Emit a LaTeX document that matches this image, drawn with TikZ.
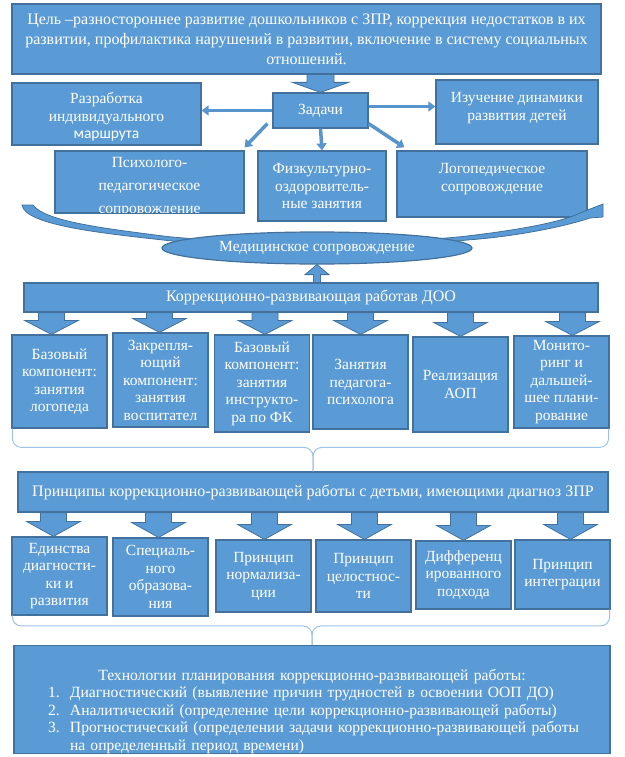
\documentclass[tikz,border=0pt]{standalone}
\usepackage{fontspec}
\setmainfont{Liberation Serif}
\newfontfamily\calibfont{Carlito}
\usepackage{tikz}
\usetikzlibrary{shapes.geometric, arrows.meta, positioning, calc}
\definecolor{boxblue}{HTML}{5B9BD5}
\definecolor{boxedge}{HTML}{41719C}
\definecolor{bracelight}{HTML}{9DC3E6}
\newcommand{\goalfont}{\fontsize{16}{20}\selectfont}
\newcommand{\boxfont}{\fontsize{15.5}{17.5}\selectfont}
\newcommand{\barfont}{\fontsize{16}{18}\selectfont}
\newcommand{\psyfont}{\fontsize{15.5}{23}\selectfont}
\newcommand{\techfont}{\fontsize{15.6}{17.5}\selectfont}
\tikzstyle{bluebox} = [draw=boxedge, fill=boxblue, rectangle, line width=1.2pt, text=white, align=center, font=\boxfont, inner sep=0pt]
\tikzstyle{rowbox} = [bluebox, minimum width=95pt]
\tikzstyle{medell} = [draw=boxedge, fill=boxblue, ellipse, line width=1.2pt, text=white, font=\boxfont, minimum width=310pt, minimum height=32pt, inner sep=0pt]
\tikzstyle{thinarrw} = [line width=3.5pt, draw=boxblue!85!boxedge, -{Triangle[length=7pt,width=10pt]}]
\tikzstyle{bracelne} = [draw=bracelight, line width=1pt, rounded corners=9pt]
\tikzset{fatarrw/.style n args={3}{fill=boxblue, draw=boxedge, line width=0.8pt,
  to path={let \p1=(\tikztostart), \p2=(\tikztotarget) in
    (\x1-#1,\y1) -- (\x1+#1,\y1) -- (\x1+#1,\y2+#3) -- (\x1+#2,\y2+#3) -- (\x1,\y2)
    -- (\x1-#2,\y2+#3) -- (\x1-#1,\y2+#3) -- cycle}}}

\begin{document}
\begin{tikzpicture}[x=1pt, y=-1pt]
    \useasboundingbox (0,0) rectangle (624,757);

    % Goal and tasks
    \node (goal) [bluebox, font=\goalfont, minimum width=589pt, minimum height=70pt] at (306.5,39) {Цель –разностороннее развитие дошкольников с ЗПР, коррекция недостатков в их\\развитии, профилактика нарушений в развитии, включение в систему социальных\\отношений.};
    \node (tasks) [bluebox, minimum width=95pt, minimum height=35pt] at (320.5,110.5) {Задачи};
    \node (route) [bluebox, minimum width=189pt, minimum height=62pt] at (106.5,114) {\rule{0pt}{17pt}Разработка\\индивидуального\\{\calibfont маршрута}};
    \node (dynam) [bluebox, minimum width=162pt, minimum height=64pt] at (517,112) {Изучение динамики\\развития детей\rule[-11.5pt]{0pt}{0pt}};
    \node (psych) [bluebox, minimum width=189pt, minimum height=62pt] at (149.5,182) {};
    \begin{scope}
        \clip ([yshift=1pt]psych.south west) rectangle (psych.north east);
        \node [text=white, font=\psyfont, align=center, anchor=north, inner sep=0pt] at ([yshift=-7pt]psych.north) {Психолого-\\педагогическое\\сопровождение};
    \end{scope}
    \node (sport) [bluebox, minimum width=128pt, minimum height=70pt] at (322,186) {Физкультурно-\\оздоровитель-\\ные занятия};
    \node (speech) [bluebox, minimum width=190pt, minimum height=66pt] at (492,184) {Логопедическое\\сопровождение\rule[-13.4pt]{0pt}{0pt}};

    \draw [fatarrw={13.5pt}{28pt}{10pt}] (goal.south -| tasks.north) to (tasks.north);
    \draw [thinarrw] (tasks.west) -- (tasks.west -| route.east);
    \draw [thinarrw] ([yshift=4pt]tasks.east) -- ([yshift=4pt]tasks.east -| dynam.west);
    \draw [thinarrw] ($(tasks.south west)+(-5,-5)$) -- ($(psych.north east)+(0,-3)$);
    \draw [thinarrw] (tasks.south) -- (sport.north);
    \draw [thinarrw] ($(tasks.south east)+(0,-5)$) -- ($(speech.north west)+(8,-3)$);

    % curved arrow under the tasks
    \fill [boxblue, draw=boxedge, line width=0.8pt] (22,205) -- (33,205)
        .. controls (45,222) and (110,229) .. (163,236)
        .. controls (230,244) and (400,244) .. (467,236)
        .. controls (510,231) and (560,223) .. (580,213) -- (603,204) -- (603,217) -- (590,218)
        .. controls (560,228) and (510,237) .. (467,240)
        .. controls (400,248) and (230,248) .. (163,240)
        .. controls (100,233) and (25,225) .. (22,205) -- cycle;
    \node (medic) [medell] at (317,248) {Медицинское сопровождение};

    % Correction work
    \node (corr) [bluebox, font=\barfont, minimum width=574pt, minimum height=29pt] at (311,297.5) {Коррекционно-развивающая работав ДОО};
    \draw [fatarrw={3.5pt}{12pt}{-10pt}] (corr.north -| medic.south) to (medic.south);

    \node (w1) [rowbox, minimum height=93pt] at (59.5,381.5) {Базовый\\компонент:\\занятия\\логопеда};
    \node (w2) [rowbox, minimum height=94pt] at (160.5,380) {Закрепля-\\ющий\\компонент:\\занятия\\воспитател};
    \node (w3) [rowbox, minimum height=97pt] at (262,383.5) {Базовый\\компонент:\\занятия\\инструкто-\\ра по ФК};
    \node (w4) [rowbox, minimum height=94pt] at (360.5,382) {Занятия\\педагога-\\психолога};
    \node (w5) [rowbox, minimum height=95pt] at (460.5,384.5) {Реализация\\АОП};
    \node (w6) [rowbox, minimum height=92pt] at (561.5,382) {Монито-\\ринг и\\дальшей-\\шее плани-\\рование};

    \foreach \i/\dx in {1/-8, 2/-1, 3/3, 4/0, 5/0, 6/11} {
        \coordinate (wt\i) at ($(w\i.north)+(\dx,0)$);
        \draw [fatarrw={13pt}{27pt}{14pt}] (corr.south -| wt\i) to (wt\i);
    }

    % Principles
    \node (princ) [bluebox, font=\barfont, minimum width=590pt, minimum height=40pt] at (313,492) {Принципы коррекционно-развивающей работы с детьми, имеющими диагноз ЗПР};
    \draw [bracelne] ([xshift=1pt]w1.south west) |- ([yshift=24pt]princ.north) -- (princ.north);
    \draw [bracelne] ([xshift=-1pt]w6.south east) |- ([yshift=24pt]princ.north) -- (princ.north);

    \node (p1) [rowbox, minimum height=78pt] at (59.5,576) {Единства\\диагности-\\ки и\\развития};
    \node (p2) [rowbox, minimum height=78pt] at (160.5,577) {Специаль-\\ного\\образова-\\ния};
    \node (p3) [rowbox, minimum height=72pt] at (263.5,576) {Принцип\\нормализа-\\ции};
    \node (p4) [rowbox, minimum height=72pt] at (363.5,576) {Принцип\\целостнос-\\ти};
    \node (p5) [rowbox, minimum height=68pt] at (463.5,575) {Дифференц\\ированного\\подхода};
    \node (p6) [rowbox, minimum height=69pt] at (562.5,574.5) {Принцип\\интеграции};

    \foreach \i/\dx in {1/-6, 2/-2, 3/1, 4/1, 5/0, 6/8} {
        \coordinate (pt\i) at ($(p\i.north)+(\dx,0)$);
        \draw [fatarrw={13pt}{27pt}{15pt}] (princ.south -| pt\i) to (pt\i);
    }

    % Technologies
    \node (tech) [bluebox, font=\techfont, minimum width=596pt, minimum height=105pt, text width=562pt, align=left] at (312,699.5) {\rule{0pt}{34.5pt}\makebox[562pt]{Технологии планирования коррекционно-развивающей работы:}\\
        \hspace*{17pt}\makebox[22pt][l]{1.}Диагностический (выявление причин трудностей в освоении ООП ДО)\\
        \hspace*{17pt}\makebox[22pt][l]{2.}Аналитический (определение цели коррекционно-развивающей работы)\\
        \hspace*{17pt}\makebox[22pt][l]{3.}Прогностический (определении задачи коррекционно-развивающей работы\\
        \hspace*{39pt}на определенный период времени)};
    \draw [bracelne] ([xshift=1pt]p1.south west) |- ([yshift=19pt]tech.north) -- (tech.north);
    \draw [bracelne] ([xshift=-1pt]p6.south east) |- ([yshift=19pt]tech.north) -- (tech.north);
\end{tikzpicture}
\end{document}
